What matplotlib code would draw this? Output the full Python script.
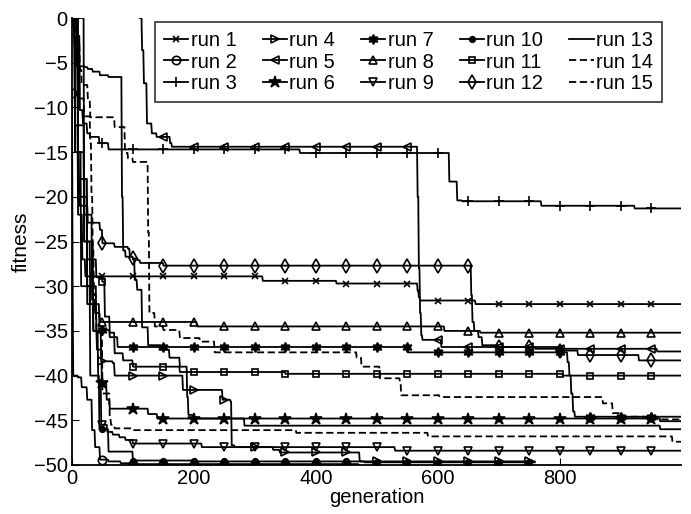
import numpy as np
import matplotlib
matplotlib.use('Agg')
import matplotlib.pyplot as plt

plt.rcParams['font.family'] = ['Liberation Sans', 'DejaVu Sans']

# ---- data: best fitness per generation, as (generation, fitness) change points ----
run_labels = ['run %d' % i for i in range(1, 16)]

run1_gen = [0, 5, 10, 17, 22, 313, 434, 567, 569, 571, 662]
run1_fit = [0, -12, -22, -27, -28.9, -29.4, -29.7, -30.5, -31.2, -31.6, -32.0]

run2_gen = [0, 1, 2, 10, 16, 25, 33, 38, 46, 60, 80, 100]
run2_fit = [-8.4, -30, -40, -40.2, -41.3, -42.7, -46.1, -48, -49.4, -49.6, -49.8, -49.9]

run3_gen = [0, 8, 13, 18, 25, 30, 45, 60, 374, 619, 632, 640, 770, 923]
run3_fit = [0, -2, -10.3, -11.8, -12.9, -13.3, -14.0, -14.7, -15.1, -18.3, -20.4, -20.5, -21.0, -21.3]

run4_gen = [0, 10, 25, 40, 48, 67, 70, 182, 245, 247, 260, 262, 267, 330, 341, 470, 472]
run4_fit = [0, -18, -30, -35, -38.4, -38.6, -40.0, -41.6, -41.6, -42.7, -42.9, -47.8, -48.0, -48.3, -48.6, -48.6, -49.6]

run5_gen = [0, 60, 100, 111, 115, 118, 123, 131, 139, 161, 164, 567, 569, 571, 573, 575, 606, 760, 960]
run5_fit = [80, 30, 8, 0, -3.6, -7.3, -11.8, -12.9, -13.3, -14.0, -14.4, -20, -28, -33, -35.5, -36.0, -36.8, -37.0, -37.3]

run6_gen = [0, 10, 25, 35, 41, 49, 57, 62, 125, 140, 965]
run6_fit = [0, -20, -32, -35, -37.1, -40.8, -42.7, -43.7, -44.3, -44.8, -45.1]

run7_gen = [0, 10, 20, 30, 45, 50, 62, 75, 551, 813, 816, 819, 822, 825]
run7_fit = [0, -15, -25, -32, -34.5, -34.9, -35.7, -36.8, -37.4, -38.5, -40, -42, -44, -44.6]

run8_gen = [0, 10, 20, 33, 38, 46, 205, 611, 670]
run8_fit = [0, -12, -22, -31.5, -33, -34.0, -34.5, -35.0, -35.2]

run9_gen = [0, 20, 35, 43, 48, 58, 67, 78, 88, 100, 213, 530]
run9_fit = [0, -25, -35, -40.5, -45.5, -46.3, -46.6, -46.9, -47.2, -47.6, -48.0, -48.4]

run10_gen = [0, 5, 15, 30, 45, 60, 100, 200, 480]
run10_fit = [0, -15, -30, -40, -46, -48.5, -49.5, -49.6, -49.7]

run11_gen = [0, 10, 25, 40, 50, 54, 62, 70, 84, 100, 177, 350, 805]
run11_fit = [0, -18, -27, -29, -29.5, -33.4, -35.2, -37.5, -38.3, -39.0, -39.6, -39.8, -40.0]

run12_gen = [0, 5, 12, 26, 46, 50, 70, 92, 95, 100, 108, 112, 150, 655, 657, 660, 667, 673, 700, 800, 830, 930]
run12_fit = [0, -15, -21, -22.9, -23.7, -25.2, -25.6, -25.8, -26.7, -26.9, -27.1, -27.4, -27.7, -31, -34, -35.0, -35.7, -36.6, -36.8, -37.2, -37.7, -38.3]

run13_gen = [0, 4, 7, 21, 26, 34, 46, 60, 82, 84, 88, 100, 103, 107, 115, 125, 144, 160, 177, 189, 191, 200, 283, 965]
run13_fit = [0, -3, -5.4, -5.5, -5.7, -6.0, -6.4, -6.6, -20, -26, -26.7, -27.0, -29.3, -30.4, -34.6, -36.6, -37.1, -38.0, -39.0, -42.4, -44.4, -44.8, -45.6, -46.0]

run14_gen = [0, 5, 8, 13, 16, 26, 30, 70, 87, 92, 100, 125, 127, 136, 150, 177, 210, 234, 467, 475, 505, 538, 540, 603, 871, 887, 903, 960]
run14_fit = [0, -1.5, -2.8, -5.8, -7.5, -9, -11.1, -12.2, -15.1, -15.7, -16.1, -24, -33, -34.5, -34.9, -35.8, -36.2, -37.4, -38, -39.0, -40.3, -40.7, -42.2, -42.4, -43.1, -44.2, -44.6, -44.9]

run15_gen = [0, 6, 12, 20, 30, 32, 34, 36, 40, 50, 62, 64, 70, 100, 368, 584, 985]
run15_fit = [0, -4, -9, -11, -14, -19.6, -26, -31, -35, -42, -44.7, -45.5, -45.9, -46.1, -46.4, -46.8, -47.4]

run_lengths = [1000, 470, 1000, 760, 1000, 1000, 1000, 1000, 1000, 760, 1000, 1000, 1000, 1000, 1000]

runs_gen = [run1_gen, run2_gen, run3_gen, run4_gen, run5_gen, run6_gen, run7_gen, run8_gen,
            run9_gen, run10_gen, run11_gen, run12_gen, run13_gen, run14_gen, run15_gen]
runs_fit = [run1_fit, run2_fit, run3_fit, run4_fit, run5_fit, run6_fit, run7_fit, run8_fit,
            run9_fit, run10_fit, run11_fit, run12_fit, run13_fit, run14_fit, run15_fit]

x_ticks = [0, 200, 400, 600, 800]
y_ticks = [0, -5, -10, -15, -20, -25, -30, -35, -40, -45, -50]

# ---- styles ----
hexagram = (6, 1, 0)
styles = [
    dict(marker='x', ms=5, ls='-'),
    dict(marker='o', ms=6, mfc='none', ls='-'),
    dict(marker='+', ms=7, ls='-'),
    dict(marker='>', ms=6, mfc='none', ls='-'),
    dict(marker='<', ms=6, mfc='none', ls='-'),
    dict(marker='*', ms=9, mfc='black', ls='-'),
    dict(marker=hexagram, ms=7, mfc='black', ls='-'),
    dict(marker='^', ms=6, mfc='none', ls='-'),
    dict(marker='v', ms=6, mfc='none', ls='-'),
    dict(marker='.', ms=8, ls='-'),
    dict(marker='s', ms=5, mfc='none', ls='-'),
    dict(marker='d', ms=7, mfc='none', ls='-'),
    dict(marker=None, ls='-'),
    dict(marker=None, ls=(0, (4, 2))),
    dict(marker=None, ls=(0, (4, 2))),
]


def step_series(gens, fits, length):
    g = np.arange(length)
    idx = np.searchsorted(np.asarray(gens), g, side='right') - 1
    return g, np.asarray(fits, dtype=float)[idx]


fig = plt.figure(figsize=(6.91, 5.14), dpi=100)
ax = fig.add_axes([72 / 691, 1 - 465 / 514, (681 - 72) / 691, (465 - 18) / 514])

for lab, gens, fits, L, st in zip(run_labels, runs_gen, runs_fit, run_lengths, styles):
    g, f = step_series(gens, fits, L)
    ax.plot(g, f, color='black', lw=1.3, mec='black', mew=1.2, markevery=50, label=lab, **st)

ax.set_xlim(0, 999)
ax.set_ylim(-50, 0)
ax.set_xticks(x_ticks)
ax.set_yticks(y_ticks)
ax.tick_params(direction='in', length=5, labelsize=14.5, width=0.8, pad=3)
for s in ['top', 'right']:
    ax.spines[s].set_visible(False)
for s in ['left', 'bottom']:
    ax.spines[s].set_linewidth(1.3)
ax.set_xlabel('generation', fontsize=14.5, labelpad=0)
ax.set_ylabel('fitness', fontsize=15, labelpad=2)

leg = ax.legend(ncol=5, loc='upper right', bbox_to_anchor=(0.969, 0.991), borderaxespad=0,
                fontsize=14.5, handlelength=1.2, handletextpad=0.12, columnspacing=1.3,
                labelspacing=0.12, borderpad=0.45, fancybox=False, framealpha=1,
                edgecolor='#333333', numpoints=1)
leg.get_frame().set_linewidth(1.2)

fig.savefig('out.png', dpi=100)
